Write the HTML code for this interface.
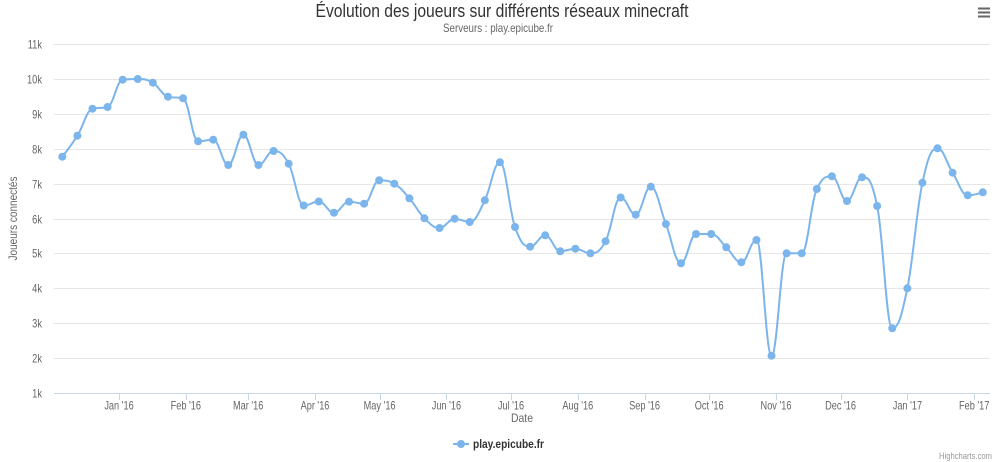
<!DOCTYPE html>
<html>
<head>
<meta charset="utf-8">
<style>
html,body{margin:0;padding:0;background:#fff;}
svg{display:block;}
text{font-family:"Liberation Sans","DejaVu Sans",sans-serif;}
</style>
</head>
<body>
<svg id="chart" width="1000" height="462" viewBox="0 0 1000 462" xmlns="http://www.w3.org/2000/svg">
<rect x="0" y="0" width="1000" height="462" fill="#ffffff"/>

<!-- Title -->
<text x="502" y="17" text-anchor="middle" font-size="18" fill="#333333" textLength="373" lengthAdjust="spacingAndGlyphs">Évolution des joueurs sur différents réseaux minecraft</text>
<text x="498" y="32" text-anchor="middle" font-size="12" fill="#666666" textLength="110" lengthAdjust="spacingAndGlyphs">Serveurs : play.epicube.fr</text>

<!-- Hamburger -->
<g stroke="#666666" stroke-width="2">
<line x1="978" y1="8.5" x2="990" y2="8.5"/>
<line x1="978" y1="12.5" x2="990" y2="12.5"/>
<line x1="978" y1="16.5" x2="990" y2="16.5"/>
</g>

<!-- Grid -->
<g id="grid" stroke="#e6e6e6" stroke-width="1"></g>
<g id="ylabels" font-size="11.5" fill="#666666"></g>

<!-- X axis -->
<line x1="54" y1="393.5" x2="990" y2="393.5" stroke="#ccd6eb" stroke-width="1"/>
<g id="xticks" stroke="#ccd6eb" stroke-width="1"></g>
<g id="xlabels" font-size="11.5" fill="#666666"></g>

<text x="522" y="422" text-anchor="middle" font-size="12" fill="#666666" textLength="22" lengthAdjust="spacingAndGlyphs">Date</text>

<!-- Y axis title -->
<text transform="translate(17,218.5) rotate(-90)" x="0" y="0" text-anchor="middle" font-size="12" fill="#666666" textLength="84" lengthAdjust="spacingAndGlyphs">Joueurs connectés</text>

<!-- Series -->
<path id="line" fill="none" stroke="#7cb5ec" stroke-width="2" stroke-linejoin="round" stroke-linecap="round"/>
<g id="markers" fill="#7cb5ec"></g>

<!-- Legend -->
<line x1="453" y1="444" x2="469" y2="444" stroke="#7cb5ec" stroke-width="2"/>
<circle cx="461" cy="444" r="4" fill="#7cb5ec"/>
<text x="473" y="448" font-size="12" font-weight="bold" fill="#333333" textLength="71" lengthAdjust="spacingAndGlyphs">play.epicube.fr</text>

<!-- Credits -->
<text x="992" y="459" text-anchor="end" font-size="9" fill="#999999" textLength="53" lengthAdjust="spacingAndGlyphs">Highcharts.com</text>
</svg>

<script>
(function(){
  var NS="http://www.w3.org/2000/svg";
  function el(tag, attrs, parent, txt){
    var e=document.createElementNS(NS,tag);
    for(var k in attrs) e.setAttribute(k, attrs[k]);
    if(txt!==undefined) e.textContent=txt;
    parent.appendChild(e);
    return e;
  }
  var grid=document.getElementById('grid'), yl=document.getElementById('ylabels');
  for(var k=1;k<=11;k++){
    var y=Math.round(44+(11-k)*34.9)+0.5;
    if(k>1) el('line',{x1:54,y1:y,x2:990,y2:y},grid);
    el('text',{transform:'translate(42,'+(y+4)+') scale(0.81,1)','text-anchor':'end',x:0,y:0},yl,k+'k');
  }
  var months=[["Jan '16",119],["Feb '16",185.8],["Mar '16",248.2],["Apr '16",315],["May '16",379.6],["Jun '16",446.4],["Jul '16",511],["Aug '16",577.8],["Sep '16",644.6],["Oct '16",709.2],["Nov '16",776],["Dec '16",840.6],["Jan '17",907.4],["Feb '17",974.2]];
  var xt=document.getElementById('xticks'), xl=document.getElementById('xlabels');
  months.forEach(function(m){
    var x=Math.round(m[1])+0.5;
    el('line',{x1:x,y1:393,x2:x,y2:400},xt);
    el('text',{transform:'translate('+m[1]+',409.5) scale(0.8,1)','text-anchor':'middle',x:0,y:0},xl,m[0]);
  });
  var ys=[156.7,135.7,108.7,107,79.7,79,82.7,96.7,98.3,141.3,139.7,165,134.7,165,151,163.7,205.5,201.5,212.7,201.7,203.7,180.3,183.7,198.3,218.3,228,218.7,222,200.3,162.3,227,246.7,235.3,251.3,248.7,253.3,241.2,197.5,214.7,186.7,224,263.3,234,234,247.3,262.3,240,355.7,253.3,253.3,189,176.3,201,177.3,206,328.3,288.3,182.7,148.3,172.7,195.3,192.3];
  var n=ys.length, P=[];
  for(var i=0;i<n;i++) P.push([62.3+i*15.09, ys[i]]);
  var sm=1.5, den=2.5, L=[], R=[];
  for(i=1;i<n-1;i++){
    var px=P[i][0],py=P[i][1],lx=P[i-1][0],ly=P[i-1][1],nx=P[i+1][0],ny=P[i+1][1];
    var lcx=(sm*px+lx)/den, lcy=(sm*py+ly)/den, rcx=(sm*px+nx)/den, rcy=(sm*py+ny)/den;
    if(rcx!==lcx){
      var corr=((rcy-lcy)*(rcx-px))/(rcx-lcx)+py-rcy;
      lcy+=corr; rcy+=corr;
    }
    if(lcy>ly && lcy>py){ lcy=Math.max(ly,py); rcy=2*py-lcy; }
    else if(lcy<ly && lcy<py){ lcy=Math.min(ly,py); rcy=2*py-lcy; }
    if(rcy>ny && rcy>py){ rcy=Math.max(ny,py); lcy=2*py-rcy; }
    else if(rcy<ny && rcy<py){ rcy=Math.min(ny,py); lcy=2*py-rcy; }
    L[i]=[lcx,lcy]; R[i]=[rcx,rcy];
  }
  var d='M '+P[0][0].toFixed(2)+' '+P[0][1].toFixed(2);
  for(i=1;i<n;i++){
    var c1=R[i-1]||P[i-1], c2=L[i]||P[i];
    d+=' C '+c1[0].toFixed(2)+' '+c1[1].toFixed(2)+' '+c2[0].toFixed(2)+' '+c2[1].toFixed(2)+' '+P[i][0].toFixed(2)+' '+P[i][1].toFixed(2);
  }
  document.getElementById('line').setAttribute('d',d);
  var mk=document.getElementById('markers');
  P.forEach(function(p){ el('circle',{cx:p[0].toFixed(2),cy:p[1].toFixed(2),r:4},mk); });
})();
</script>
</body>
</html>
